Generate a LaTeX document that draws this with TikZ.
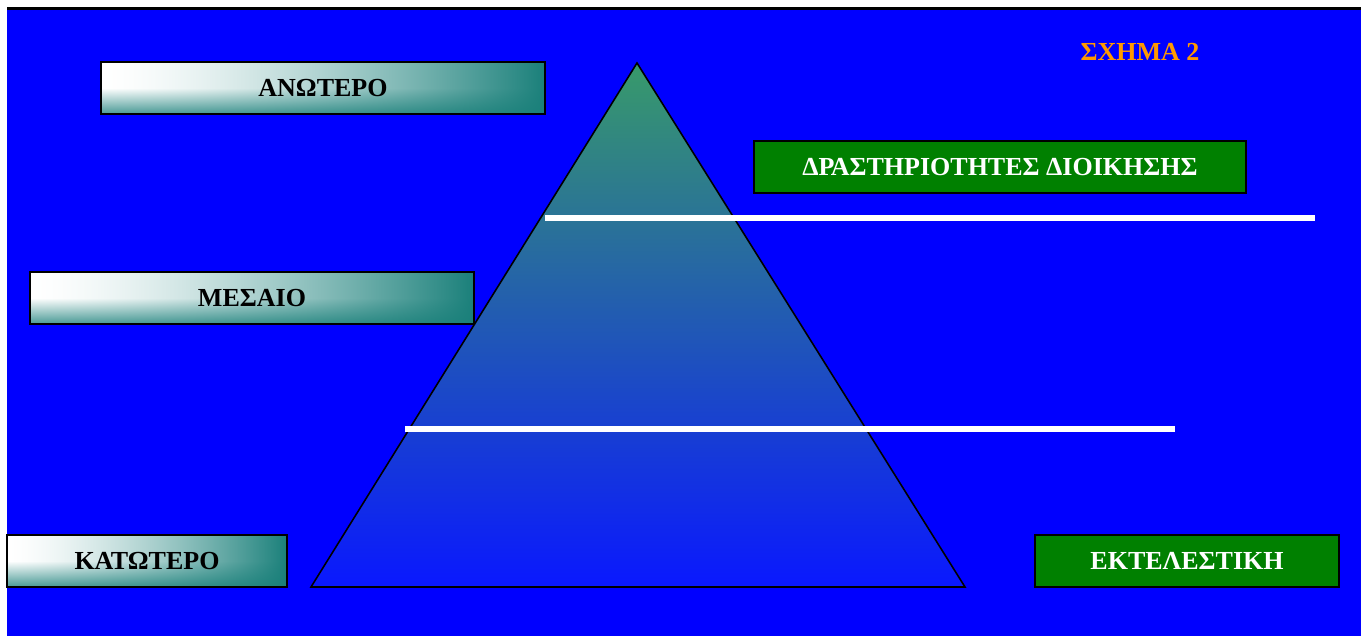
\documentclass[tikz,border=0pt]{standalone}
\usepackage{fontspec}
\setmainfont{Liberation Serif}

\definecolor{bgblue}{RGB}{0,0,255}
\definecolor{boxgreen}{RGB}{0,128,0}
\definecolor{figorange}{RGB}{255,153,0}
\definecolor{pyrtop}{RGB}{56,154,106}
\definecolor{pyrmid}{RGB}{32,96,212}
\definecolor{pyrbot}{RGB}{10,24,255}

% white at top left, teal to the right and along the bottom
\pgfdeclarefunctionalshading{levelshade}{\pgfpoint{0bp}{0bp}}{\pgfpoint{100bp}{100bp}}{}{
  25 sub 50 div dup 0 lt {pop 0} if dup 1 gt {pop 1} if
  0.5 exch sub 0.5 div dup 0 lt {pop 0} if dup 1 gt {pop 1} if 0.8 mul
  exch 25 sub 50 div dup 0 lt {pop 0} if dup 1 gt {pop 1} if dup sqrt mul
  1 exch sub exch 1 exch sub mul 1 exch sub
  dup 0.898 mul 1 exch sub
  exch dup 0.5 mul 1 exch sub
  exch 0.522 mul 1 exch sub
}

\tikzset{
  levelbox/.style={draw=black, line width=1.1pt, minimum height=1.04cm,
    inner sep=0pt, shade, shading=levelshade,
    font=\fontsize{14.8}{16}\selectfont\bfseries},
  rolebox/.style={draw=black, line width=1.1pt, fill=boxgreen,
    minimum height=1.04cm, inner sep=0pt, text=white,
    font=\fontsize{14.8}{16}\selectfont\bfseries},
  divider/.style={white, line width=3.6pt}
}

\begin{document}
\begin{tikzpicture}[x=0.02cm,y=-0.02cm]
  \useasboundingbox (0,0) rectangle (1361,636);
  \fill[bgblue] (7,8) rectangle (1361,636);
  \draw[black,line width=1.2pt] (7,8.5) -- (1361,8.5);

  % pyramid
  \shade[top color=pyrtop, middle color=pyrmid, bottom color=pyrbot,
    draw=black, line width=0.9pt]
    (637,63) -- (965,587) -- (311,587) -- cycle;

  % level boundaries
  \draw[divider] (545,218) -- (1315,218);
  \draw[divider] (405,429) -- (1175,429);

  % levels
  \node[levelbox, minimum width=8.88cm] (upper) at (323,88) {ΑΝΩΤΕΡΟ};
  \node[levelbox, minimum width=8.88cm] (middle) at (252,298) {ΜΕΣΑΙΟ};
  \node[levelbox, minimum width=5.6cm] (lower) at (147,561) {ΚΑΤΩΤΕΡΟ};

  % activities
  \node[rolebox, minimum width=9.84cm] (manage) at (1000,167)
    {ΔΡΑΣΤΗΡΙΟΤΗΤΕΣ ΔΙΟΙΚΗΣΗΣ};
  \node[rolebox, minimum width=6.08cm] (execute) at (1187,561)
    {ΕΚΤΕΛΕΣΤΙΚΗ};

  \node[figorange, font=\fontsize{14.8}{16}\selectfont\bfseries]
    (figtitle) at (1140,52) {ΣΧΗΜΑ 2};
\end{tikzpicture}
\end{document}
